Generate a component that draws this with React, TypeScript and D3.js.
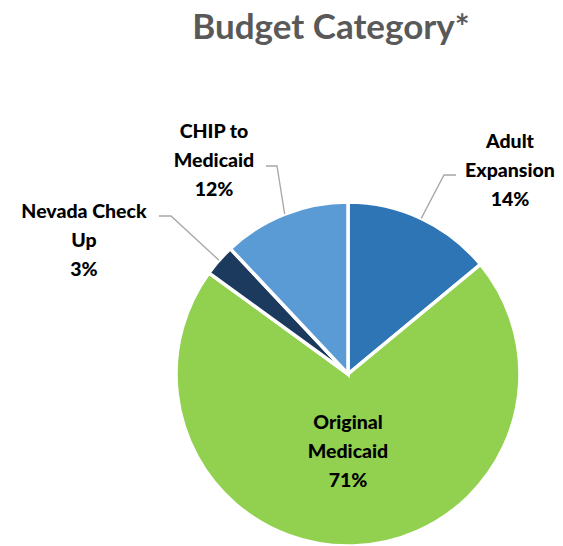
import React, { useEffect, useRef } from 'react';
import * as d3 from 'd3';

const categories = ['Adult Expansion', 'Original Medicaid', 'Nevada Check Up', 'CHIP to Medicaid'];
const labelLines = [['Adult', 'Expansion'], ['Original', 'Medicaid'], ['Nevada Check', 'Up'], ['CHIP to', 'Medicaid']];
const values = [14, 71, 3, 12];
const colors = ['#2E75B6', '#92D050', '#1B3A5E', '#5B9BD5'];

const width = 563;
const height = 546;

const App = () => {
  const svgRef = useRef(null);

  useEffect(() => {
    const svg = d3.select(svgRef.current);
    svg.selectAll('*').remove();

    const cx = 348, cy = 374, r = 172;
    const font = 'Lato, "Open Sans", sans-serif';

    svg.append('text')
      .text('Budget Category*')
      .attr('x', 331)
      .attr('y', 39)
      .attr('text-anchor', 'middle')
      .attr('font-family', font)
      .attr('font-weight', 'bold')
      .attr('font-size', '35px')
      .attr('fill', '#595959');

    const pie = d3.pie<number>().sort(null).value(d => d);
    const arcs = pie(values);
    const arc = d3.arc<d3.PieArcDatum<number>>().innerRadius(0).outerRadius(r);

    const g = svg.append('g').attr('transform', `translate(${cx},${cy})`);
    g.selectAll('path')
      .data(arcs)
      .enter()
      .append('path')
      .attr('d', arc)
      .attr('fill', (d, i) => colors[i])
      .attr('stroke', '#fff')
      .attr('stroke-width', 3.5)
      .attr('stroke-linejoin', 'miter');

    // where each label sits, and the elbow of its leader line
    const labelPos = [
      { x: 510, y: 148, elbow: [444, 175], end: 456 },
      { x: 348, y: 429, elbow: null, end: 0 },
      { x: 84, y: 218, elbow: [171, 216], end: 159 },
      { x: 214, y: 138, elbow: [277, 166], end: 266 },
    ];

    arcs.forEach((a, i) => {
      const mid = (a.startAngle + a.endAngle) / 2;
      const px = cx + r * Math.sin(mid);
      const py = cy - r * Math.cos(mid);
      const lp = labelPos[i];
      if (lp.elbow) {
        svg.append('polyline')
          .attr('points', `${px},${py} ${lp.elbow[0]},${lp.elbow[1]} ${lp.end},${lp.elbow[1]}`)
          .attr('fill', 'none')
          .attr('stroke', '#A6A6A6')
          .attr('stroke-width', 1.3);
      }
      const t = svg.append('text')
        .attr('text-anchor', 'middle')
        .attr('font-family', font)
        .attr('font-weight', 900)
        .attr('font-size', '19.5px')
        .attr('fill', '#000');
      const lines = [...labelLines[i], `${values[i]}%`];
      lines.forEach((l, j) => {
        t.append('tspan')
          .attr('x', lp.x)
          .attr('y', lp.y + j * 29)
          .text(l);
      });
    });
  }, []);

  return (
    <svg
      ref={svgRef}
      width={width}
      height={height}
      viewBox={`0 0 ${width} ${height}`}
      style={{ position: 'absolute', left: 0, top: 0, background: '#fff' }}
    />
  );
};

export default App;
